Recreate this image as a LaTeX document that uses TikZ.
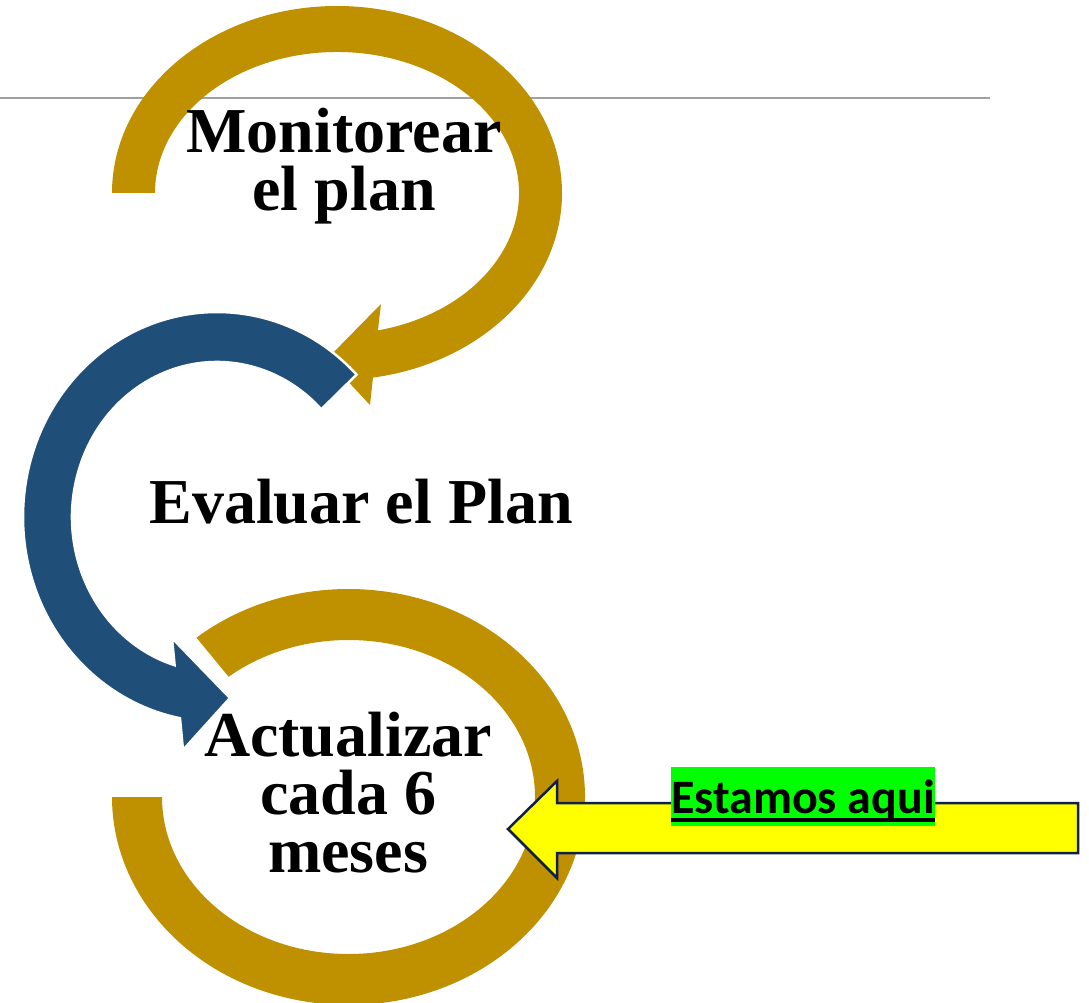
\documentclass[tikz,border=0pt]{standalone}
\usepackage{fontspec}
\setmainfont{Liberation Serif}
\newfontfamily\notefont{Carlito}
\usepackage{tikz}
\usetikzlibrary{calc,positioning}
\definecolor{cyclegold}{RGB}{191,144,0}
\definecolor{cycleblue}{RGB}{31,78,121}
\definecolor{herefill}{RGB}{255,255,0}
\definecolor{hereline}{RGB}{16,32,72}
\definecolor{heremark}{RGB}{0,255,0}
\definecolor{rulegray}{RGB}{160,160,160}
\tikzset{
  goldarc/.style={fill=cyclegold, draw=none},
  bluearc/.style={fill=cycleblue, draw=white, line width=2.5pt, line join=miter},
  herearrow/.style={fill=herefill, draw=hereline, line width=2.5pt, line join=miter},
  steptext/.style={align=center, font=\fontsize{64}{58}\selectfont\bfseries, inner sep=0pt},
  herelabel/.style={fill=heremark, font=\notefont\fontsize{48}{58}\selectfont\bfseries,
    inner xsep=0pt, inner ysep=0pt, text height=46pt, text depth=13pt}
}

\begin{document}
\begin{tikzpicture}[x=1pt, y=1pt]
  \useasboundingbox (0,0) rectangle (1089,-1003);
  % centres of the three loops
  \coordinate (ctop) at (337,-193);
  \coordinate (cmid) at (217,-517);
  \coordinate (cbot) at (348.5,-797);

  % grey rule behind the top loop
  \coordinate (rulestart) at (0,-98);
  \coordinate (ruleend) at (990,-98);
  \draw[rulegray, line width=1.3pt] (rulestart) -- (ruleend);

  % top loop (gold), head into the blue loop
  \path[goldarc] ($(ctop)+(180:225 and 187)$) arc[start angle=180, end angle=-80.8, x radius=225, y radius=187]
    -- (370,-405) -- (327,-359) -- (381,-304)
    -- ($(ctop)+(-77:182 and 141)$) arc[start angle=-77, end angle=180, x radius=182, y radius=141] -- cycle;

  % bottom loop (gold)
  \path[goldarc] ($(cbot)+(130:236.5 and 208)$) arc[start angle=130, end angle=-180, x radius=236.5, y radius=208]
    -- ($(cbot)+(180:186.5 and 157)$) arc[start angle=-180, end angle=130, x radius=186.5, y radius=157] -- cycle;

  % middle loop (blue), white rim
  \path[bluearc] ($(cmid)+(44:194 and 205)$) arc[start angle=44, end angle=259, x radius=194, y radius=205]
    -- (183,-750) -- (230,-698) -- (172,-638)
    -- ($(cmid)+(253:145 and 155)$) arc[start angle=253, end angle=44, x radius=145, y radius=155] -- cycle;

  % marker arrow
  \path[herearrow] (508,-829) -- (557,-781) -- (557,-803) -- (1078,-803)
    -- (1078,-853) -- (557,-853) -- (557,-878) -- cycle;
  \node[herelabel, anchor=base] (here) at (803,-813) {Estamos aqui};
  \draw[line width=3.5pt] ([yshift=-7pt]here.base west) -- ([yshift=-7pt]here.base east);

  % step texts (base = last line)
  \node[steptext, anchor=base] (monitor) at (344,-211) {Monitorear\\el plan};
  \node[steptext, anchor=base] (evaluate) at (361,-523) {Evaluar el Plan};
  \node[steptext, anchor=base] (update) at (348,-872) {Actualizar\\cada 6\\meses};
\end{tikzpicture}
\end{document}
